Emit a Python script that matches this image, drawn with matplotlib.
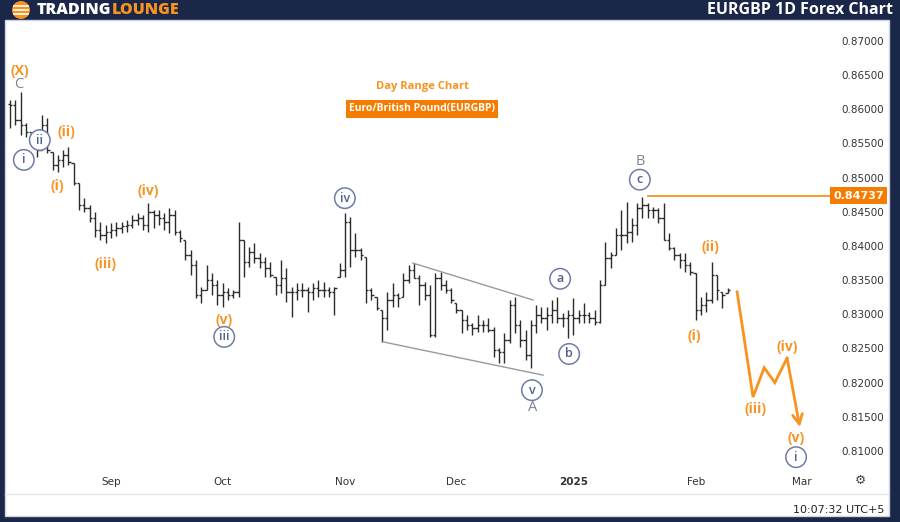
import numpy as np
import pandas as pd
import matplotlib
matplotlib.use("Agg")
import matplotlib.pyplot as plt
from matplotlib.patches import Rectangle, Ellipse
from matplotlib.lines import Line2D
from matplotlib.transforms import blended_transform_factory

# daily bars EURGBP, first bar 2024-08-06 (business days)
first_day = "2024-08-06"
highs = [0.8614, 0.8614, 0.8625, 0.8580, 0.8567, 0.8555, 0.8592, 0.8587, 0.8538, 0.8533,
         0.8541, 0.8545, 0.8522, 0.8492, 0.8470, 0.8460, 0.8450, 0.8435, 0.8431, 0.8434,
         0.8435, 0.8435, 0.8438, 0.8445, 0.8448, 0.8445, 0.8463, 0.8453, 0.8453, 0.8448,
         0.8456, 0.8453, 0.8424, 0.8409, 0.8394, 0.8380, 0.8340, 0.8372, 0.8361, 0.8350,
         0.8346, 0.8339, 0.8336, 0.8435, 0.8409, 0.8399, 0.8405, 0.8390, 0.8384, 0.8377,
         0.8355, 0.8380, 0.8368, 0.8340, 0.8346, 0.8346, 0.8340, 0.8346, 0.8350, 0.8347,
         0.8340, 0.8340, 0.8375, 0.8448, 0.8443, 0.8419, 0.8397, 0.8384, 0.8339, 0.8326,
         0.8307, 0.8333, 0.8346, 0.8331, 0.8361, 0.8372, 0.8375, 0.8358, 0.8347, 0.8343,
         0.8361, 0.8362, 0.8350, 0.8339, 0.8317, 0.8307, 0.8299, 0.8287, 0.8299, 0.8292,
         0.8295, 0.8282, 0.8251, 0.8273, 0.8321, 0.8326, 0.8292, 0.8277, 0.8292, 0.8314,
         0.8311, 0.8311, 0.8321, 0.8326, 0.8302, 0.8307, 0.8324, 0.8307, 0.8317, 0.8304,
         0.8307, 0.8350, 0.8406, 0.8391, 0.8426, 0.8453, 0.8464, 0.8441, 0.8463, 0.8472,
         0.8463, 0.8457, 0.8456, 0.8463, 0.8419, 0.8399, 0.8390, 0.8390, 0.8377, 0.8361,
         0.8326, 0.8333, 0.8377, 0.8358, 0.8333, 0.8339]
lows = [0.8573, 0.8577, 0.8563, 0.8560, 0.8552, 0.8530, 0.8541, 0.8536, 0.8511, 0.8508,
        0.8516, 0.8519, 0.8489, 0.8453, 0.8450, 0.8435, 0.8413, 0.8409, 0.8405, 0.8412,
        0.8415, 0.8419, 0.8421, 0.8426, 0.8431, 0.8424, 0.8421, 0.8426, 0.8431, 0.8424,
        0.8419, 0.8416, 0.8406, 0.8380, 0.8358, 0.8324, 0.8317, 0.8336, 0.8328, 0.8314,
        0.8311, 0.8321, 0.8324, 0.8326, 0.8355, 0.8369, 0.8375, 0.8368, 0.8355, 0.8355,
        0.8328, 0.8331, 0.8318, 0.8296, 0.8321, 0.8326, 0.8304, 0.8321, 0.8326, 0.8326,
        0.8326, 0.8299, 0.8355, 0.8355, 0.8369, 0.8384, 0.8380, 0.8317, 0.8321, 0.8307,
        0.8260, 0.8277, 0.8311, 0.8311, 0.8326, 0.8346, 0.8353, 0.8314, 0.8321, 0.8267,
        0.8267, 0.8336, 0.8331, 0.8317, 0.8302, 0.8273, 0.8277, 0.8270, 0.8274, 0.8274,
        0.8274, 0.8238, 0.8229, 0.8229, 0.8258, 0.8273, 0.8252, 0.8233, 0.8222, 0.8273,
        0.8287, 0.8277, 0.8287, 0.8287, 0.8282, 0.8266, 0.8270, 0.8287, 0.8287, 0.8287,
        0.8285, 0.8287, 0.8343, 0.8368, 0.8387, 0.8394, 0.8405, 0.8406, 0.8416, 0.8441,
        0.8441, 0.8441, 0.8434, 0.8409, 0.8394, 0.8380, 0.8368, 0.8362, 0.8358, 0.8292,
        0.8299, 0.8304, 0.8317, 0.8321, 0.8309, 0.8331]
closes = [0.8606, 0.8584, 0.8577, 0.8567, 0.8558, 0.8541, 0.8577, 0.8541, 0.8519, 0.8526,
          0.8533, 0.8523, 0.8492, 0.8460, 0.8456, 0.8441, 0.8424, 0.8416, 0.8421, 0.8424,
          0.8426, 0.8429, 0.8431, 0.8438, 0.8441, 0.8431, 0.8450, 0.8445, 0.8441, 0.8435,
          0.8445, 0.8421, 0.8412, 0.8387, 0.8372, 0.8328, 0.8336, 0.8350, 0.8343, 0.8328,
          0.8333, 0.8328, 0.8333, 0.8409, 0.8377, 0.8391, 0.8383, 0.8377, 0.8368, 0.8358,
          0.8343, 0.8353, 0.8333, 0.8333, 0.8336, 0.8336, 0.8333, 0.8339, 0.8336, 0.8336,
          0.8333, 0.8339, 0.8365, 0.8435, 0.8394, 0.8394, 0.8387, 0.8336, 0.8328, 0.8309,
          0.8295, 0.8321, 0.8328, 0.8324, 0.8350, 0.8365, 0.8353, 0.8343, 0.8328, 0.8270,
          0.8353, 0.8343, 0.8336, 0.8321, 0.8307, 0.8292, 0.8285, 0.8280, 0.8285, 0.8285,
          0.8277, 0.8248, 0.8245, 0.8263, 0.8314, 0.8285, 0.8263, 0.8241, 0.8285, 0.8299,
          0.8295, 0.8299, 0.8307, 0.8295, 0.8295, 0.8299, 0.8295, 0.8299, 0.8299, 0.8295,
          0.8289, 0.8343, 0.8383, 0.8387, 0.8416, 0.8416, 0.8421, 0.8431, 0.8456, 0.8460,
          0.8453, 0.8453, 0.8441, 0.8409, 0.8397, 0.8387, 0.8380, 0.8372, 0.8362, 0.8307,
          0.8314, 0.8321, 0.8358, 0.8336, 0.8328, 0.8336]
first_open = 0.8608

price_ticks = [0.810, 0.815, 0.820, 0.825, 0.830, 0.835, 0.840, 0.845, 0.850, 0.855,
               0.860, 0.865, 0.870]
month_labels = ["Sep", "Oct", "Nov", "Dec", "2025", "Feb", "Mar"]
last_level = 0.84737
level_start = 120  # bar index where the orange level starts

# wave labels: (text, bar index, price, kind)
wave_labels = [
    ("(X)", 1.9, 0.8656, "orange"), ("C", 1.7, 0.8636, "gray"),
    ("ii", 5.6, 0.8555, "circle"), ("i", 2.6, 0.8526, "circle"),
    ("(ii)", 10.7, 0.8567, "orange"), ("(i)", 8.8, 0.8488, "orange"),
    ("(iv)", 26.0, 0.8481, "orange"), ("(iii)", 17.9, 0.8374, "orange"),
    ("(v)", 40.3, 0.8292, "orange"), ("iii", 40.3, 0.8267, "circle"),
    ("iv", 63.0, 0.8470, "circle"), ("a", 103.5, 0.8352, "circle"),
    ("b", 105.2, 0.8242, "circle"), ("v", 98.2, 0.8189, "circle"),
    ("A", 98.4, 0.8163, "gray"), ("B", 118.5, 0.8523, "gray"),
    ("c", 118.5, 0.8497, "circle"), ("(ii)", 131.7, 0.8399, "orange"),
    ("(i)", 128.7, 0.8268, "orange"), ("(iii)", 140.2, 0.8162, "orange"),
    ("(iv)", 146.2, 0.8252, "orange"), ("(v)", 147.9, 0.8119, "orange"),
    ("i", 147.9, 0.8091, "circle"),
]

# wedge lines and projected path
wedge_upper = ([75.8, 98.4], [0.8375, 0.8321])
wedge_lower = ([70.0, 100.3], [0.8260, 0.8211])
proj_x = [136.8, 139.8, 141.9, 143.9, 146.2, 148.6]
proj_y = [0.8333, 0.8179, 0.8222, 0.8200, 0.8236, 0.8135]

NAVY = "#1b2748"
ORANGE = "#f7931e"
BLUE = "#4f5f8c"
W, H = 900, 522

fig = plt.figure(figsize=(9, 5.22), dpi=100)
fig.patch.set_facecolor(NAVY)
panel = Rectangle((5 / W, 1 - 516 / H), 884 / W, 496 / H, transform=fig.transFigure,
                  fc="white", ec="#d0d4dc", lw=1, zorder=-5)
fig.patches.append(panel)

ax = fig.add_axes([5 / W, 1 - 470 / H, 825 / W, 450 / H])
ax.set_zorder(2)
ax.set_facecolor("none")
for s in ax.spines.values():
    s.set_visible(False)

n = len(closes)
x = np.arange(n)
opens = np.clip([first_open] + closes[:-1], lows, highs)
ax.vlines(x, lows, highs, color="#2b2b2b", lw=1.0)
ax.hlines(opens, x - 0.45, x, color="#2b2b2b", lw=1.0)
ax.hlines(closes, x, x + 0.45, color="#2b2b2b", lw=1.0)

ax.set_xlim(-0.94, 154.28)
ax.set_ylim(0.80722, 0.87307)

dates = pd.bdate_range(first_day, periods=170)
month_pos = []
for i in range(1, len(dates)):
    if dates[i].month != dates[i - 1].month and dates[i] >= pd.Timestamp("2024-09-01"):
        month_pos.append(i)
month_pos = month_pos[:len(month_labels)]
ax.set_xticks(month_pos)
ax.set_xticklabels(month_labels)
for lab in ax.get_xticklabels():
    if lab.get_text() == "2025":
        lab.set_fontweight("bold")
ax.tick_params(axis="x", length=0, pad=5, labelsize=7.5, labelcolor="#333333")

ax.yaxis.tick_right()
ax.set_yticks(price_ticks)
ax.set_yticklabels([f"{v:.5f}" for v in price_ticks])
ax.tick_params(axis="y", length=0, pad=8, labelsize=7.5, labelcolor="#333333")

# wedge
ax.plot(*wedge_upper, color="#9a9a9a", lw=1)
ax.plot(*wedge_lower, color="#9a9a9a", lw=1)

# orange level line + price tag
ax.plot([level_start, 154.28], [last_level, last_level], color=ORANGE, lw=1.3)
tr = blended_transform_factory(ax.transAxes, ax.transData)
ax.text(1.004, last_level, f"{last_level:.5f}", transform=tr, ha="left", va="center",
        color="white", fontsize=8, fontweight="bold", clip_on=False,
        bbox=dict(boxstyle="square,pad=0.3", fc="#f57c00", ec="none"))

# projection path
ax.plot(proj_x[:-1], proj_y[:-1], color=ORANGE, lw=2, solid_joinstyle="miter")
ax.annotate("", xy=(proj_x[-1], proj_y[-1]), xytext=(proj_x[-2], proj_y[-2]),
            arrowprops=dict(arrowstyle="->,head_length=0.7,head_width=0.35",
                            color=ORANGE, lw=2, shrinkA=0, shrinkB=0))

for txt, bx, by, kind in wave_labels:
    if kind == "orange":
        ax.text(bx, by, txt, color=ORANGE, fontsize=10, fontweight="bold",
                ha="center", va="center", family="Open Sans")
    elif kind == "gray":
        ax.text(bx, by, txt, color="#7d8290", fontsize=10.5,
                ha="center", va="center", family="Open Sans")
    else:
        ax.text(bx, by, txt, color=BLUE, fontsize=9, fontweight="semibold",
                ha="center", va="center", family="Open Sans",
                bbox=dict(boxstyle="circle,pad=0.3", fc="white", ec="#6e7ca6", lw=1.1))

# chart titles
fig.text(422 / W, 1 - 86 / H, "Day Range Chart", color=ORANGE, fontsize=8,
         fontweight="bold", ha="center", va="center", family="Open Sans")
fig.text(422 / W, 1 - 109 / H, "Euro/British Pound(EURGBP)", color="white", fontsize=7.5,
         fontweight="bold", ha="center", va="center", family="Open Sans",
         bbox=dict(boxstyle="square,pad=0.3", fc="#f57c00", ec="none"))

# header
logo = Ellipse((21 / W, 1 - 10 / H), 18 / W, 18 / H, transform=fig.transFigure,
               fc=ORANGE, ec="none")
fig.patches.append(logo)
for dy in (-4, 0, 4):
    fig.add_artist(Line2D([14 / W, 28 / W], [1 - (10 + dy) / H] * 2, color="white", lw=1.2))
fig.text(37 / W, 1 - 10 / H, "TRADING", color="white", fontsize=11.5, fontweight="heavy",
         ha="left", va="center", family="Open Sans")
fig.text(112 / W, 1 - 10 / H, "LOUNGE", color=ORANGE, fontsize=11.5, fontweight="heavy",
         ha="left", va="center", family="Open Sans")
fig.text(893 / W, 1 - 10 / H, "EURGBP 1D Forex Chart", color="white", fontsize=11.5,
         fontweight="bold", ha="right", va="center", family="Open Sans")

# bottom strip
fig.add_artist(Line2D([5 / W, 888 / W], [1 - 494 / H] * 2, color="#e3e6ec", lw=1))
fig.text(860 / W, 1 - 480 / H, "\u2699", color="#444444", fontsize=9, ha="center", va="center")
fig.text(884 / W, 1 - 510 / H, "10:07:32 UTC+5", color="#222222", fontsize=8,
         ha="right", va="center")

fig.savefig("out.png", dpi=100, facecolor=fig.get_facecolor())
